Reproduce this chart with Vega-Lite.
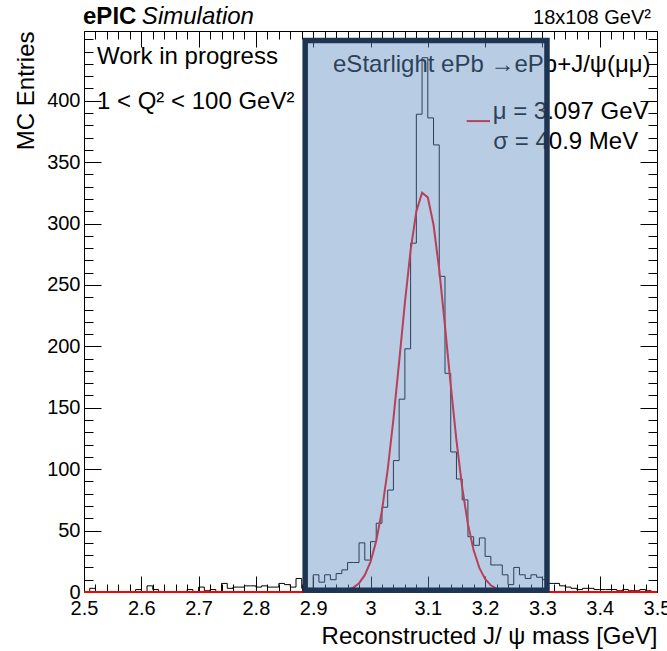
{
  "$schema": "https://vega.github.io/schema/vega-lite/v6.json",
  "width": 573,
  "height": 561,
  "autosize": {"type": "none"},
  "padding": {"left": 84, "top": 31, "right": 10, "bottom": 59},
  "background": "white",
  "config": {
    "view": {"stroke": "black", "strokeWidth": 1},
    "font": "Liberation Sans",
    "axis": {"grid": false, "domainColor": "black", "tickColor": "black", "labelColor": "black", "titleColor": "black", "labelFont": "Liberation Sans", "titleFont": "Liberation Sans", "tickWidth": 1}
  },
  "datasets": {
    "hist": [
      {"lo": 2.50, "n": 0}, {"lo": 2.51, "n": 3}, {"lo": 2.52, "n": 0}, {"lo": 2.53, "n": 0}, {"lo": 2.54, "n": 0},
      {"lo": 2.55, "n": 0}, {"lo": 2.56, "n": 0}, {"lo": 2.57, "n": 0}, {"lo": 2.58, "n": 0}, {"lo": 2.59, "n": 2},
      {"lo": 2.60, "n": 0}, {"lo": 2.61, "n": 5}, {"lo": 2.62, "n": 2}, {"lo": 2.63, "n": 0}, {"lo": 2.64, "n": 0},
      {"lo": 2.65, "n": 0}, {"lo": 2.66, "n": 0}, {"lo": 2.67, "n": 0}, {"lo": 2.68, "n": 2}, {"lo": 2.69, "n": 0},
      {"lo": 2.70, "n": 4}, {"lo": 2.71, "n": 1}, {"lo": 2.72, "n": 2}, {"lo": 2.73, "n": 0}, {"lo": 2.74, "n": 7},
      {"lo": 2.75, "n": 3}, {"lo": 2.76, "n": 4}, {"lo": 2.77, "n": 4}, {"lo": 2.78, "n": 5}, {"lo": 2.79, "n": 5},
      {"lo": 2.80, "n": 4}, {"lo": 2.81, "n": 5}, {"lo": 2.82, "n": 4}, {"lo": 2.83, "n": 4}, {"lo": 2.84, "n": 7},
      {"lo": 2.85, "n": 6}, {"lo": 2.86, "n": 4}, {"lo": 2.87, "n": 11}, {"lo": 2.88, "n": 3}, {"lo": 2.89, "n": 3},
      {"lo": 2.90, "n": 14}, {"lo": 2.91, "n": 8}, {"lo": 2.92, "n": 14}, {"lo": 2.93, "n": 10}, {"lo": 2.94, "n": 15},
      {"lo": 2.95, "n": 18}, {"lo": 2.96, "n": 24}, {"lo": 2.97, "n": 24}, {"lo": 2.98, "n": 40}, {"lo": 2.99, "n": 26},
      {"lo": 3.00, "n": 41}, {"lo": 3.01, "n": 56}, {"lo": 3.02, "n": 69}, {"lo": 3.03, "n": 83}, {"lo": 3.04, "n": 107},
      {"lo": 3.05, "n": 157}, {"lo": 3.06, "n": 198}, {"lo": 3.07, "n": 284}, {"lo": 3.08, "n": 389}, {"lo": 3.09, "n": 435},
      {"lo": 3.10, "n": 386}, {"lo": 3.11, "n": 364}, {"lo": 3.12, "n": 257}, {"lo": 3.13, "n": 178}, {"lo": 3.14, "n": 114},
      {"lo": 3.15, "n": 92}, {"lo": 3.16, "n": 75}, {"lo": 3.17, "n": 45}, {"lo": 3.18, "n": 38}, {"lo": 3.19, "n": 44},
      {"lo": 3.20, "n": 29}, {"lo": 3.21, "n": 22}, {"lo": 3.22, "n": 22}, {"lo": 3.23, "n": 14}, {"lo": 3.24, "n": 6},
      {"lo": 3.25, "n": 20}, {"lo": 3.26, "n": 14}, {"lo": 3.27, "n": 11}, {"lo": 3.28, "n": 14}, {"lo": 3.29, "n": 12},
      {"lo": 3.30, "n": 10}, {"lo": 3.31, "n": 7}, {"lo": 3.32, "n": 7}, {"lo": 3.33, "n": 5}, {"lo": 3.34, "n": 4},
      {"lo": 3.35, "n": 3}, {"lo": 3.36, "n": 2}, {"lo": 3.37, "n": 3}, {"lo": 3.38, "n": 3}, {"lo": 3.39, "n": 2},
      {"lo": 3.40, "n": 2}, {"lo": 3.41, "n": 2}, {"lo": 3.42, "n": 2}, {"lo": 3.43, "n": 1}, {"lo": 3.44, "n": 2},
      {"lo": 3.45, "n": 1}, {"lo": 3.46, "n": 1}, {"lo": 3.47, "n": 2}, {"lo": 3.48, "n": 1}, {"lo": 3.49, "n": 0},
      {"lo": 3.50, "n": 0}
    ],
    "fit": [
      {"x": 2.50, "f": 0}, {"x": 2.51, "f": 0}, {"x": 2.52, "f": 0}, {"x": 2.53, "f": 0}, {"x": 2.54, "f": 0},
      {"x": 2.55, "f": 0}, {"x": 2.56, "f": 0}, {"x": 2.57, "f": 0}, {"x": 2.58, "f": 0}, {"x": 2.59, "f": 0},
      {"x": 2.60, "f": 0}, {"x": 2.61, "f": 0}, {"x": 2.62, "f": 0}, {"x": 2.63, "f": 0}, {"x": 2.64, "f": 0},
      {"x": 2.65, "f": 0}, {"x": 2.66, "f": 0}, {"x": 2.67, "f": 0}, {"x": 2.68, "f": 0}, {"x": 2.69, "f": 0},
      {"x": 2.70, "f": 0}, {"x": 2.71, "f": 0}, {"x": 2.72, "f": 0}, {"x": 2.73, "f": 0}, {"x": 2.74, "f": 0},
      {"x": 2.75, "f": 0}, {"x": 2.76, "f": 0}, {"x": 2.77, "f": 0}, {"x": 2.78, "f": 0}, {"x": 2.79, "f": 0},
      {"x": 2.80, "f": 0}, {"x": 2.81, "f": 0}, {"x": 2.82, "f": 0}, {"x": 2.83, "f": 0}, {"x": 2.84, "f": 0},
      {"x": 2.85, "f": 0}, {"x": 2.86, "f": 0}, {"x": 2.87, "f": 0}, {"x": 2.88, "f": 0}, {"x": 2.89, "f": 0},
      {"x": 2.90, "f": 0}, {"x": 2.91, "f": 0}, {"x": 2.92, "f": 0}, {"x": 2.93, "f": 0}, {"x": 2.94, "f": 0.3},
      {"x": 2.95, "f": 0.72}, {"x": 2.96, "f": 1.65}, {"x": 2.97, "f": 3.54}, {"x": 2.98, "f": 7.17}, {"x": 2.99, "f": 13.68},
      {"x": 3.00, "f": 24.58}, {"x": 3.01, "f": 41.59}, {"x": 3.02, "f": 66.29}, {"x": 3.03, "f": 99.54}, {"x": 3.04, "f": 140.8},
      {"x": 3.05, "f": 187.6}, {"x": 3.06, "f": 235.4}, {"x": 3.07, "f": 278.3}, {"x": 3.08, "f": 309.9}, {"x": 3.09, "f": 325.1},
      {"x": 3.10, "f": 321.3}, {"x": 3.11, "f": 299.0}, {"x": 3.12, "f": 262.2}, {"x": 3.13, "f": 216.5}, {"x": 3.14, "f": 168.5},
      {"x": 3.15, "f": 123.4}, {"x": 3.16, "f": 85.2}, {"x": 3.17, "f": 55.4}, {"x": 3.18, "f": 33.9}, {"x": 3.19, "f": 19.6},
      {"x": 3.20, "f": 10.64}, {"x": 3.21, "f": 5.45}, {"x": 3.22, "f": 2.63}, {"x": 3.23, "f": 1.19}, {"x": 3.24, "f": 0.51},
      {"x": 3.25, "f": 0.21}, {"x": 3.26, "f": 0}, {"x": 3.27, "f": 0}, {"x": 3.28, "f": 0}, {"x": 3.29, "f": 0},
      {"x": 3.30, "f": 0}, {"x": 3.31, "f": 0}, {"x": 3.32, "f": 0}, {"x": 3.33, "f": 0}, {"x": 3.34, "f": 0},
      {"x": 3.35, "f": 0}, {"x": 3.36, "f": 0}, {"x": 3.37, "f": 0}, {"x": 3.38, "f": 0}, {"x": 3.39, "f": 0},
      {"x": 3.40, "f": 0}, {"x": 3.41, "f": 0}, {"x": 3.42, "f": 0}, {"x": 3.43, "f": 0}, {"x": 3.44, "f": 0},
      {"x": 3.45, "f": 0}, {"x": 3.46, "f": 0}, {"x": 3.47, "f": 0}, {"x": 3.48, "f": 0}, {"x": 3.49, "f": 0},
      {"x": 3.50, "f": 0}
    ],
    "region": [{"lo": 2.886, "hi": 3.308, "bottom": 1.5, "top": 449}],
    "one": [{}]
  },
  "layer": [
    {
      "data": {"name": "hist"},
      "mark": {"type": "line", "interpolate": "step-after", "color": "black", "strokeWidth": 1},
      "encoding": {
        "x": {"field": "lo", "type": "quantitative",
              "scale": {"domain": [2.5, 3.5], "nice": false, "zero": false},
              "axis": {"orient": "bottom", "values": [2.5, 2.6, 2.7, 2.8, 2.9, 3.0, 3.1, 3.2, 3.3, 3.4, 3.5],
                       "tickSize": -16, "domain": false, "labelFontSize": 20, "labelPadding": 22, "format": ".2~f",
                       "labelFlush": false, "labelOverlap": false, "labelBound": false,
                       "title": "Reconstructed J/ ψ mass [GeV]", "titleFontSize": 24, "titleFontWeight": "normal",
                       "titleAnchor": "end", "titlePadding": 6}},
        "y": {"field": "n", "type": "quantitative",
              "scale": {"domain": [0, 456.75], "nice": false, "zero": false},
              "axis": {"orient": "left", "values": [0, 50, 100, 150, 200, 250, 300, 350, 400],
                       "tickSize": -17, "domain": false, "labelFontSize": 20, "labelPadding": 21,
                       "labelOverlap": false, "labelBound": false, "labelFlush": false,
                       "title": "MC Entries", "titleFontSize": 24, "titleFontWeight": "normal",
                       "titleAnchor": "end", "titlePadding": 8}}
      }
    },
    {
      "data": {"name": "fit"},
      "mark": {"type": "line", "color": "#ff0000", "strokeWidth": 2},
      "encoding": {
        "x": {"field": "x", "type": "quantitative",
              "scale": {"domain": [2.5, 3.5], "nice": false, "zero": false},
              "axis": {"orient": "bottom", "values": [2.52, 2.54, 2.56, 2.58, 2.62, 2.64, 2.66, 2.68, 2.72, 2.74, 2.76, 2.78, 2.82, 2.84, 2.86, 2.88, 2.92, 2.94, 2.96, 2.98, 3.02, 3.04, 3.06, 3.08, 3.12, 3.14, 3.16, 3.18, 3.22, 3.24, 3.26, 3.28, 3.32, 3.34, 3.36, 3.38, 3.42, 3.44, 3.46, 3.48],
                       "tickSize": -8, "domain": false, "labels": false, "title": null}},
        "y": {"field": "f", "type": "quantitative",
              "scale": {"domain": [0, 456.75], "nice": false, "zero": false},
              "axis": {"orient": "left", "values": [10, 20, 30, 40, 60, 70, 80, 90, 110, 120, 130, 140, 160, 170, 180, 190, 210, 220, 230, 240, 260, 270, 280, 290, 310, 320, 330, 340, 360, 370, 380, 390, 410, 420, 430, 440, 450],
                       "tickSize": -9, "domain": false, "labels": false, "title": null}}
      }
    },
    {
      "data": {"name": "one"},
      "mark": {"type": "text", "text": "ePIC", "fontSize": 24, "fontWeight": "bold", "align": "left", "baseline": "alphabetic", "color": "black"},
      "encoding": {"x": {"datum": 2.4983, "type": "quantitative", "axis": null}, "y": {"datum": 462.3, "type": "quantitative", "axis": null}}
    },
    {
      "data": {"name": "one"},
      "mark": {"type": "text", "text": "Simulation", "fontSize": 24, "fontStyle": "italic", "align": "left", "baseline": "alphabetic", "color": "black"},
      "encoding": {"x": {"datum": 2.601, "type": "quantitative", "axis": null}, "y": {"datum": 462.3, "type": "quantitative", "axis": null}}
    },
    {
      "data": {"name": "one"},
      "mark": {"type": "text", "text": "18x108 GeV²", "fontSize": 20, "align": "right", "baseline": "alphabetic", "color": "black"},
      "encoding": {"x": {"datum": 3.4895, "type": "quantitative", "axis": null}, "y": {"datum": 462.3, "type": "quantitative", "axis": null}}
    },
    {
      "data": {"name": "one"},
      "mark": {"type": "text", "text": "Work in progress", "fontSize": 24, "align": "left", "baseline": "alphabetic", "color": "black"},
      "encoding": {"x": {"datum": 2.5227, "type": "quantitative", "axis": null}, "y": {"datum": 429.8, "type": "quantitative", "axis": null}}
    },
    {
      "data": {"name": "one"},
      "mark": {"type": "text", "text": "1 < Q² < 100 GeV²", "fontSize": 24, "align": "left", "baseline": "alphabetic", "color": "black"},
      "encoding": {"x": {"datum": 2.5227, "type": "quantitative", "axis": null}, "y": {"datum": 393, "type": "quantitative", "axis": null}}
    },
    {
      "data": {"name": "one"},
      "mark": {"type": "text", "text": "eStarlight ePb →ePb+J/ψ(μμ)", "fontSize": 24, "align": "left", "baseline": "alphabetic", "color": "black"},
      "encoding": {"x": {"datum": 2.9346, "type": "quantitative", "axis": null}, "y": {"datum": 423.5, "type": "quantitative", "axis": null}}
    },
    {
      "data": {"name": "one"},
      "mark": {"type": "text", "text": "μ = 3.097 GeV", "fontSize": 24, "align": "left", "baseline": "alphabetic", "color": "black"},
      "encoding": {"x": {"datum": 3.2132, "type": "quantitative", "axis": null}, "y": {"datum": 385, "type": "quantitative", "axis": null}}
    },
    {
      "data": {"name": "one"},
      "mark": {"type": "text", "text": "σ = 40.9 MeV", "fontSize": 24, "align": "left", "baseline": "alphabetic", "color": "black"},
      "encoding": {"x": {"datum": 3.2143, "type": "quantitative", "axis": null}, "y": {"datum": 360.6, "type": "quantitative", "axis": null}}
    },
    {
      "data": {"name": "one"},
      "mark": {"type": "rule", "color": "#ff0000", "strokeWidth": 2},
      "encoding": {
        "x": {"datum": 3.1679, "type": "quantitative", "scale": {"domain": [2.5, 3.5], "nice": false, "zero": false},
              "axis": {"orient": "top", "values": [2.52, 2.54, 2.56, 2.58, 2.62, 2.64, 2.66, 2.68, 2.72, 2.74, 2.76, 2.78, 2.82, 2.84, 2.86, 2.88, 2.92, 2.94, 2.96, 2.98, 3.02, 3.04, 3.06, 3.08, 3.12, 3.14, 3.16, 3.18, 3.22, 3.24, 3.26, 3.28, 3.32, 3.34, 3.36, 3.38, 3.42, 3.44, 3.46, 3.48],
                       "tickSize": -8, "domain": false, "labels": false, "title": null}},
        "x2": {"datum": 3.2086},
        "y": {"datum": 383.4, "type": "quantitative", "scale": {"domain": [0, 456.75], "nice": false, "zero": false},
              "axis": {"orient": "right", "values": [10, 20, 30, 40, 60, 70, 80, 90, 110, 120, 130, 140, 160, 170, 180, 190, 210, 220, 230, 240, 260, 270, 280, 290, 310, 320, 330, 340, 360, 370, 380, 390, 410, 420, 430, 440, 450],
                       "tickSize": -9, "domain": false, "labels": false, "title": null}}
      }
    },
    {
      "data": {"name": "region"},
      "mark": {"type": "rect", "fill": "#618ec3", "fillOpacity": 0.45, "stroke": "#1e3453", "strokeWidth": 5.5, "strokeOpacity": 1},
      "encoding": {
        "x": {"field": "lo", "type": "quantitative", "scale": {"domain": [2.5, 3.5], "nice": false, "zero": false},
              "axis": {"orient": "top", "values": [2.5, 2.6, 2.7, 2.8, 2.9, 3.0, 3.1, 3.2, 3.3, 3.4, 3.5],
                       "tickSize": -16, "domain": false, "labels": false, "title": null}},
        "x2": {"field": "hi"},
        "y": {"field": "bottom", "type": "quantitative", "scale": {"domain": [0, 456.75], "nice": false, "zero": false},
              "axis": {"orient": "right", "values": [0, 50, 100, 150, 200, 250, 300, 350, 400],
                       "tickSize": -17, "domain": false, "labels": false, "title": null}},
        "y2": {"field": "top"}
      }
    }
  ],
  "resolve": {"axis": {"x": "independent", "y": "independent"}}
}
